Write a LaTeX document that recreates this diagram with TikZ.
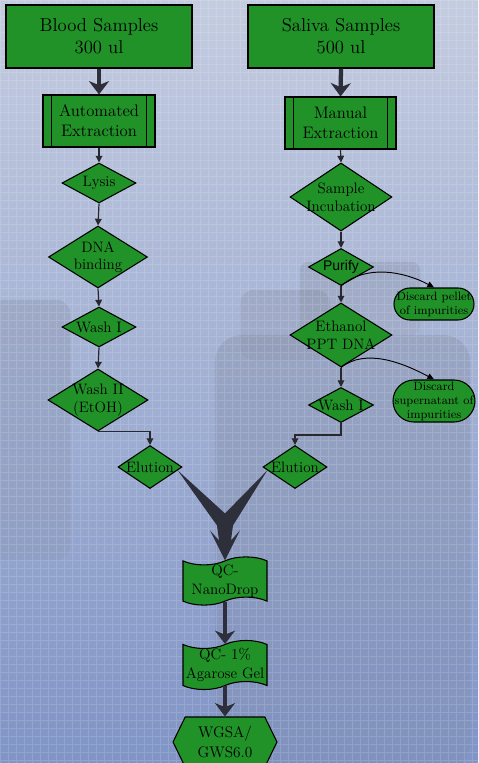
\documentclass[tikz,border=0pt]{standalone}
\usepackage{fontspec}
\newfontfamily\sansfam{Liberation Sans}
\usetikzlibrary{shapes.geometric,shapes.symbols,arrows.meta,calc}

\definecolor{boxgreen}{RGB}{32,146,40}
\definecolor{bgtop}{RGB}{196,204,224}
\definecolor{bgbot}{RGB}{128,148,198}
\definecolor{shade}{RGB}{70,90,140}
\definecolor{arrowgrey}{RGB}{45,47,58}
\definecolor{linegrey}{RGB}{40,40,48}

% one unit = one pixel of the 478 x 763 canvas
\newcommand\pxu{0.75pt}

\begin{document}
\begin{tikzpicture}[x=0.75pt, y=-0.75pt,
  stepbox/.style n args={2}{rectangle, draw=black, line width=0.8pt, fill=boxgreen,
    inner sep=0pt, align=center, minimum width=#1*\pxu, minimum height=#2*\pxu},
  predef/.style n args={2}{stepbox={#1}{#2}},
  dia/.style n args={2}{diamond, draw=black, line width=0.8pt, fill=boxgreen,
    inner sep=0pt, minimum width=#1*\pxu, minimum height=#2*\pxu},
  diatext/.style={align=center, inner sep=0pt, font=\fontsize{11.3}{13.2}\selectfont},
  stadium/.style n args={2}{rectangle, rounded corners=#2*0.375pt, draw=black,
    line width=0.8pt, fill=boxgreen, inner sep=0pt, align=center,
    minimum width=#1*\pxu, minimum height=#2*\pxu, font=\fontsize{9}{10.5}\selectfont},
  tapebox/.style={tape, draw=black, line width=0.8pt, fill=boxgreen, inner sep=0pt,
    align=center, minimum width=84*\pxu, minimum height=46*\pxu, tape bend height=6pt,
    font=\fontsize{11.3}{14}\selectfont},
  thickarrow/.style={draw=arrowgrey, line width=3.2pt,
    -{Stealth[length=10pt, width=15pt, inset=3pt]}},
  thinarrow/.style={draw=linegrey, line width=0.9pt,
    -{Triangle[length=5pt, width=5pt]}},
  curvearrow/.style={draw=black, line width=0.7pt,
    -{Triangle[length=5pt, width=4.5pt]}}
]
\useasboundingbox (0,0) rectangle (478,763);

% backdrop: soft blue gradient with a faint grid texture and faded silhouettes
\shade[top color=bgtop, bottom color=bgbot] (0,0) rectangle (478,763);
\fill[shade, opacity=0.06, rounded corners=20pt] (215,335) rectangle (470,770);
\fill[shade, opacity=0.06, rounded corners=6pt] (300,262) rectangle (420,335);
\fill[shade, opacity=0.05, rounded corners=10pt] (-10,300) rectangle (70,560);
\fill[shade, opacity=0.05, rounded corners=10pt] (240,290) rectangle (330,360);
\draw[white, opacity=0.14, line width=0.5pt, step=6pt] (0,0) grid (478,763);

% sources
\node[stepbox={186}{63}, font=\fontsize{14}{16.5}\selectfont] (blood) at (99,36.5)
  {Blood Samples\\300 ul};
\node[stepbox={186}{63}, font=\fontsize{14}{16.5}\selectfont] (saliva) at (341,36.5)
  {Saliva Samples\\500 ul};

% extraction steps (predefined process boxes)
\node[predef={112}{52}, font=\fontsize{12.5}{15}\selectfont] (auto) at (99,121)
  {Automated\\Extraction};
\draw[line width=0.8pt] ([xshift=9*\pxu]auto.north west) -- ([xshift=9*\pxu]auto.south west)
  ([xshift=-9*\pxu]auto.north east) -- ([xshift=-9*\pxu]auto.south east);
\node[predef={111}{52}, font=\fontsize{12.5}{15}\selectfont] (manual) at (340.5,123)
  {Manual\\Extraction};
\draw[line width=0.8pt] ([xshift=9*\pxu]manual.north west) -- ([xshift=9*\pxu]manual.south west)
  ([xshift=-9*\pxu]manual.north east) -- ([xshift=-9*\pxu]manual.south east);

% blood branch
\node[dia={74}{40}, label={[diatext]center:Lysis}] (lysis) at (99,183) {};
\node[dia={99}{62}, label={[diatext]center:{DNA\\binding}}] (binding) at (98,257) {};
\node[dia={74}{40}, label={[diatext]center:Wash I}] (washa) at (99,327) {};
\node[dia={100}{62}, label={[diatext]center:{Wash II\\(EtOH)}}] (washb) at (98,400) {};
\node[dia={64}{43}, label={[diatext]center:Elution}] (elutl) at (150,467) {};

% saliva branch
\node[dia={102}{68}, label={[diatext]center:{Sample\\Incubation}}] (incub) at (341,197) {};
\node[dia={65}{37}, label={[diatext, font=\sansfam\fontsize{10.5}{12}\selectfont]center:Purify}]
  (purify) at (341,267) {};
\node[stadium={80}{32}] (pellet) at (434,304) {Discard pellet\\of impurities};
\node[dia={102}{64}, label={[diatext]center:{Ethanol\\PPT DNA}}] (ethanol) at (341,335) {};
\node[stadium={82}{42}] (super) at (434,401) {Discard\\supernatant of\\impurities};
\node[dia={65}{35}, label={[diatext]center:Wash I}] (washr) at (341,405) {};
\node[dia={64}{43}, label={[diatext]center:Elution}] (elutr) at (295,467) {};

% quality control and final step
\node[tapebox] (nano) at (225,581) {QC-\\NanoDrop};
\node[tapebox] (agar) at (225,665) {QC- 1\%\\Agarose Gel};
\node[signal, signal to=west and east, signal pointer angle=128, draw=black,
  line width=0.8pt, fill=boxgreen, inner sep=0pt, align=center,
  minimum width=104*\pxu, minimum height=50*\pxu,
  font=\fontsize{11.5}{14.5}\selectfont] (wgsa) at (225,742) {WGSA/\\GWS6.0};

% heavy arrows
\draw[thickarrow] (blood.south) -- (auto.north);
\draw[thickarrow] (saliva.south) -- (manual.north);
\draw[thickarrow] (nano.south) -- (agar.north);
\draw[thickarrow] (agar.south) -- (wgsa.north);

% thin flow arrows
\draw[thinarrow] (auto.south) -- (lysis.north);
\draw[thinarrow] (lysis.south) -- (binding.north);
\draw[thinarrow] (binding.south) -- (washa.north);
\draw[thinarrow] (washa.south) -- (washb.north);
\draw[thinarrow] (washb.south) -| (elutl.north);
\draw[thinarrow] (manual.south) -- (incub.north);
\draw[thinarrow] (incub.south) -- (purify.north);
\draw[thinarrow] (purify.south) -- (ethanol.north);
\draw[thinarrow] (ethanol.south) -- (washr.north);
\draw[thinarrow] (washr.south) -- ++(0,12) -| (elutr.north);

% side outputs
\draw[curvearrow] (purify.south) .. controls ++(25,-22) and ++(-30,-16) .. (pellet.north);
\draw[curvearrow] (ethanol.south) .. controls ++(25,-20) and ++(-30,-16) .. (super.north);

% both eluates merge into one arrow towards QC
\coordinate (tip) at (nano.north);
\fill[arrowgrey]
  ($(elutl.east)!0.15!(elutl.south)$) -- ($(tip)+(0,-47)$)
  -- ($(elutr.west)!0.15!(elutr.south)$) -- ($(tip)+(8,-35)$)
  -- ($(tip)+(6,-20)$) -- ($(tip)+(15,-30)$) -- (tip)
  -- ($(tip)+(-15,-30)$) -- ($(tip)+(-6,-20)$) -- ($(tip)+(-8,-35)$) -- cycle;
\end{tikzpicture}
\end{document}
